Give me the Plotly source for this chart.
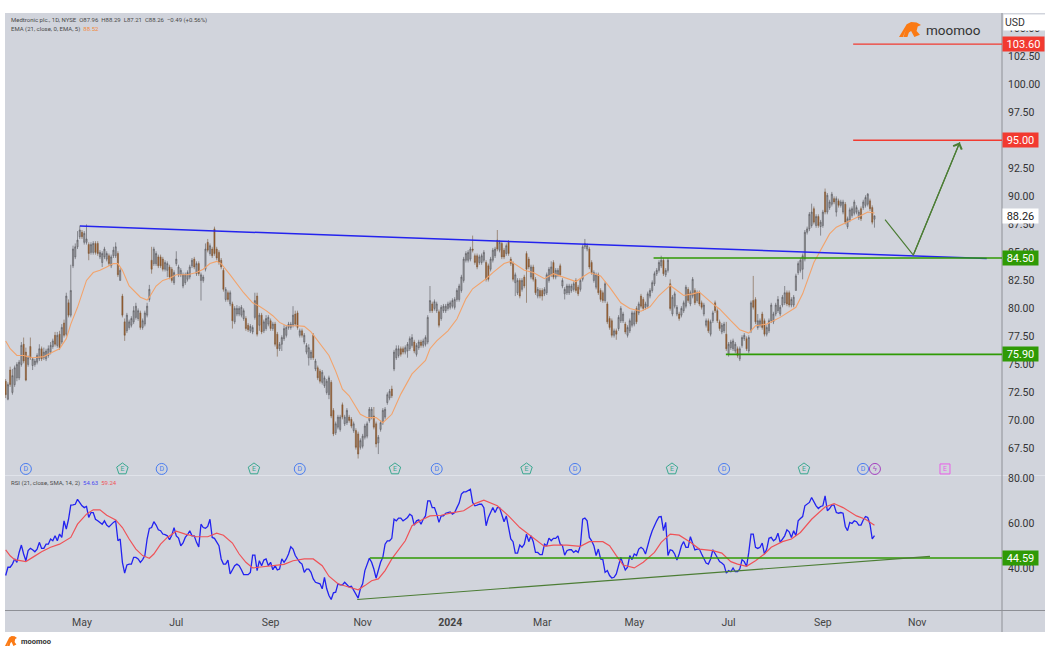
import plotly.graph_objects as go

opens = [
73.5,71.9,74.5,72.5,73.2,73.8,73.8,75.0,76.8,76.1,
75.0,76.6,74.9,75.0,75.2,75.5,76.4,75.6,75.5,75.8,
76.1,76.6,77.6,76.7,77.7,77.0,78.7,77.7,80.5,79.4,
83.8,84.6,85.5,86.4,86.8,85.9,85.9,85.7,85.0,85.0,
85.8,85.8,84.6,84.1,84.6,84.4,84.7,83.8,84.7,84.7,
84.9,82.5,81.1,78.8,78.0,78.3,78.5,78.8,79.2,79.1,
79.6,78.3,78.6,79.4,80.8,84.3,84.0,84.0,84.6,84.6,
84.4,83.5,83.4,83.7,83.5,82.3,84.0,83.0,83.0,82.0,
82.3,82.6,82.8,83.8,84.4,83.1,84.0,82.5,82.5,83.5,
85.9,84.9,85.3,87.1,85.3,85.0,84.3,83.4,80.8,81.4,
80.4,80.4,78.8,79.5,79.5,79.4,79.1,79.1,78.5,78.0,
77.9,79.2,81.1,78.5,79.4,78.0,78.2,78.6,78.9,78.2,
78.6,77.7,76.4,76.8,77.3,77.6,78.3,78.3,78.5,79.5,
79.6,77.6,78.0,77.0,76.1,75.6,75.6,77.6,74.6,74.7,
74.4,73.4,73.1,72.5,72.3,73.4,70.9,68.9,69.4,69.2,
71.4,69.7,69.8,70.3,70.1,69.1,69.1,68.8,67.6,67.7,
68.5,68.6,70.0,70.3,70.4,69.7,68.0,69.2,69.8,70.3,
71.6,72.0,72.8,74.6,75.6,75.8,76.4,76.4,76.1,76.2,
76.4,76.7,77.0,75.9,76.5,77.0,76.7,76.8,77.0,79.8,
80.4,80.0,79.8,79.7,79.1,79.8,79.8,80.0,80.1,80.2,
80.1,80.8,80.8,81.6,82.5,84.3,84.3,84.4,85.3,84.7,
84.7,84.1,84.1,84.3,84.1,83.8,83.5,84.3,84.7,86.1,
85.2,85.8,85.2,84.9,85.9,84.4,84.0,82.3,81.4,82.5,
81.7,82.8,84.9,84.4,82.8,83.7,82.6,81.1,81.6,81.6,
81.3,81.4,82.5,83.0,84.1,82.8,83.0,83.8,82.0,81.3,
81.4,81.4,81.6,81.7,82.5,81.9,81.7,82.6,85.5,85.3,
85.3,84.1,82.5,81.9,83.0,81.6,81.4,80.7,80.4,79.1,
78.9,77.6,78.0,78.2,78.9,78.9,78.6,77.6,78.0,78.5,
78.6,80.0,79.6,81.1,80.8,80.1,80.2,81.1,81.6,82.2,
83.1,83.4,83.8,84.3,83.0,83.4,82.2,79.5,80.2,79.5,
79.5,79.4,79.8,80.2,81.7,80.4,81.1,81.6,80.7,81.4,
80.5,79.5,78.5,78.9,77.7,78.9,80.5,79.8,78.8,77.9,
78.0,77.7,75.9,76.5,76.4,76.2,76.4,75.5,76.7,77.3,
77.3,76.2,78.0,80.7,80.8,78.3,78.5,79.5,78.9,77.7,
78.0,78.9,78.8,79.5,79.8,79.5,80.3,80.5,81.4,81.4,
80.3,80.3,81.6,83.2,83.4,83.5,84.4,86.8,87.1,87.4,
88.9,87.4,88.2,87.3,87.4,90.4,88.6,89.0,89.3,89.8,
88.6,89.6,89.2,88.6,89.3,87.3,87.9,88.3,88.5,88.6,
88.1,88.9,89.0,89.2,89.3,89.6,89.0,87.96]

closes = [
72.3,73.2,73.2,74.0,74.7,75.0,75.2,76.7,75.3,73.6,
75.6,75.6,75.5,75.3,75.8,76.4,75.5,76.1,76.2,76.4,
76.7,77.1,76.8,77.6,76.5,78.3,77.6,81.1,79.4,81.6,
85.3,85.5,86.1,87.0,86.4,86.7,86.2,84.9,85.7,85.8,
85.0,84.9,85.0,84.9,85.3,84.9,84.0,84.6,85.2,85.5,
83.0,83.4,79.4,77.6,79.4,78.8,79.1,79.8,80.2,79.8,
78.3,78.9,79.6,80.2,81.7,83.5,85.3,84.9,83.8,83.8,
83.5,84.1,84.0,82.8,82.5,83.2,84.4,83.7,83.4,83.0,
83.0,83.2,83.7,84.3,83.7,84.0,83.1,83.0,82.8,85.3,
85.2,85.6,84.7,84.9,84.5,84.1,83.7,81.7,81.7,80.8,
81.4,78.9,80.0,80.0,80.0,80.1,79.8,78.2,78.1,78.4,
78.3,80.7,77.7,79.4,77.9,78.8,79.1,79.2,78.2,78.6,
76.8,76.4,76.8,77.4,78.2,78.3,78.6,78.6,79.4,78.6,
78.3,78.0,77.6,77.6,76.7,76.5,76.1,75.6,75.3,73.8,
73.5,74.3,73.8,73.5,73.8,70.4,68.8,69.7,70.3,70.3,
70.3,70.3,70.9,70.0,69.5,69.7,67.6,67.0,68.2,68.6,
69.5,69.7,71.0,71.0,69.4,67.9,68.5,69.8,70.9,71.0,
72.3,72.6,72.2,76.1,76.4,76.4,75.9,76.1,76.5,76.8,
77.3,77.4,76.2,76.7,77.0,76.7,77.1,77.4,79.2,80.7,
79.8,80.6,80.4,78.5,80.1,80.2,80.2,80.4,80.5,80.7,
80.8,81.6,82.0,82.8,84.4,84.9,85.0,85.3,85.2,84.1,
83.7,84.6,84.7,85.0,82.6,82.6,84.4,85.2,85.3,85.3,
85.9,84.6,84.6,85.6,84.9,84.0,82.6,83.0,82.5,81.1,
82.5,82.0,83.5,83.7,83.7,82.6,81.4,81.7,81.1,81.1,
81.7,83.0,83.5,83.7,82.8,83.4,83.4,83.0,82.5,81.7,
82.0,82.0,82.0,82.2,81.6,81.3,82.5,85.5,85.8,85.6,
83.7,83.2,83.2,83.0,81.4,80.8,80.7,82.2,78.8,78.3,
77.6,78.0,77.7,79.2,80.0,79.5,77.9,78.3,78.9,79.6,
79.6,78.8,80.4,80.2,80.0,80.4,81.3,81.6,82.3,83.1,
83.4,84.1,84.3,83.1,83.4,84.3,80.0,81.0,81.3,80.1,
79.1,80.0,80.5,81.9,80.7,81.4,82.6,80.5,81.4,80.4,
80.1,80.3,78.9,78.0,78.8,79.6,79.8,78.9,78.2,78.5,
78.6,76.4,76.8,77.0,77.1,76.8,75.8,76.4,77.4,77.6,
76.4,77.4,80.5,80.1,78.8,78.9,78.9,78.3,77.7,78.3,
78.9,80.3,79.5,80.3,80.8,80.1,81.0,81.4,80.4,80.3,
80.8,81.0,82.9,84.0,84.3,84.7,86.8,87.1,88.4,88.6,
87.7,88.2,87.4,87.7,88.6,88.6,90.1,89.5,90.2,89.5,
89.8,89.2,89.5,89.5,87.7,88.0,88.8,88.9,89.5,89.0,
88.6,88.0,89.5,89.9,90.2,88.9,87.7,88.26]

highs = [
73.7,73.4,74.8,74.6,74.9,75.2,75.4,77.0,77.4,76.5,
75.8,77.4,75.6,75.5,76.0,76.8,76.6,76.5,76.4,76.7,
77.0,77.3,77.9,77.9,78.0,78.6,79.0,81.4,80.8,83.9,
85.6,85.8,86.9,87.4,87.0,86.9,87.5,85.9,85.9,86.0,
86.0,86.0,85.2,85.1,85.5,85.1,84.9,84.8,85.5,85.9,
85.1,83.6,81.3,79.1,79.6,79.0,79.3,80.2,80.5,80.0,
79.8,79.1,79.8,80.5,82.1,85.5,85.5,85.1,84.8,84.8,
84.6,84.3,84.2,83.9,83.7,83.4,85.1,83.9,83.6,83.2,
83.2,83.4,83.9,84.5,84.6,84.2,84.2,83.2,83.0,85.8,
86.2,85.8,85.5,87.3,85.5,85.2,84.5,83.6,81.9,81.6,
81.6,80.6,80.2,80.3,80.2,80.3,80.0,79.3,78.7,78.6,
78.5,81.4,81.4,79.6,79.6,79.0,79.4,79.4,79.1,78.8,
78.8,77.9,77.0,77.6,78.5,78.5,78.8,78.8,80.2,79.8,
79.8,78.2,78.2,77.8,76.9,76.8,76.3,77.8,75.5,74.9,
74.6,74.5,74.0,73.7,74.0,73.6,71.1,69.9,70.5,70.5,
71.6,70.5,71.1,70.5,70.3,69.9,69.3,69.0,68.4,68.8,
69.7,69.9,71.2,71.2,71.2,69.9,68.7,70.0,71.1,71.2,
72.5,72.8,73.1,76.3,76.7,76.7,76.6,76.6,76.7,77.0,
77.5,77.7,77.2,76.9,77.2,77.2,77.3,77.6,79.4,82.0,
80.6,80.8,80.6,79.9,80.3,80.4,80.4,80.6,80.7,80.9,
81.0,81.8,82.2,83.0,84.6,85.1,85.2,85.5,86.5,84.9,
84.9,84.8,84.9,85.2,84.3,84.0,84.6,85.4,85.5,87.0,
86.1,86.0,85.4,85.8,86.1,84.6,84.2,83.2,82.7,82.7,
82.7,83.0,85.1,84.6,83.9,83.9,82.8,81.9,81.8,81.8,
81.9,83.2,83.7,84.2,84.3,83.6,83.6,84.0,82.7,81.9,
82.2,82.2,82.2,82.4,82.7,82.1,82.7,85.7,86.2,85.8,
85.5,84.3,83.4,83.2,83.2,81.8,81.6,82.4,80.6,79.3,
79.1,78.2,78.2,79.4,80.2,79.7,78.8,78.5,79.1,79.8,
79.8,80.2,80.6,81.3,81.0,80.6,81.5,81.8,82.5,83.3,
83.6,84.3,84.7,84.5,83.6,84.5,82.6,81.2,81.5,80.3,
79.7,80.2,80.7,82.1,81.9,81.6,82.8,81.8,81.6,81.6,
80.7,80.5,79.1,79.1,79.0,79.8,80.7,80.0,79.0,78.7,
78.8,78.8,77.0,77.2,77.3,77.0,76.6,76.6,77.6,77.8,
77.5,77.6,80.7,82.9,81.0,79.5,79.1,79.7,79.1,78.5,
79.1,80.5,79.7,80.5,81.1,80.3,81.2,82.0,81.6,81.6,
81.0,81.2,83.1,84.2,84.5,84.9,87.0,87.3,88.6,89.35,
89.1,88.4,88.4,87.9,88.8,90.7,90.3,89.7,90.4,90.0,
90.0,89.8,89.7,89.7,89.5,88.2,89.0,89.1,89.7,89.2,
88.8,89.1,89.7,90.1,90.3,89.8,89.2,88.29]

lows = [
72.0,71.8,73.0,72.3,73.0,73.5,73.6,74.8,75.1,73.5,
74.8,75.4,74.5,74.8,75.0,75.3,75.3,75.4,75.3,75.6,
75.9,76.4,76.6,76.5,76.3,76.8,77.4,77.5,79.2,79.2,
83.6,84.4,85.3,86.2,86.2,85.7,85.7,84.3,84.8,84.8,
84.8,84.7,84.4,83.7,84.4,84.2,83.8,83.6,84.5,84.5,
82.8,82.5,79.2,77.1,77.8,78.1,78.3,78.6,79.0,78.9,
78.1,78.1,78.4,79.2,80.6,83.1,83.8,83.8,83.6,83.6,
83.3,83.3,82.8,82.6,82.3,82.1,83.8,82.8,82.8,81.8,
82.1,82.4,82.6,83.6,83.5,82.9,82.9,80.7,82.3,83.3,
85.0,84.7,84.5,84.7,84.3,83.9,83.5,81.5,80.6,80.6,
80.2,78.2,78.6,79.3,79.3,79.2,78.9,78.0,77.9,77.8,
77.7,79.0,77.5,78.0,77.7,77.8,78.0,78.4,78.0,78.0,
76.6,75.7,76.2,76.2,77.1,77.4,78.1,78.1,78.3,78.4,
78.1,77.4,77.4,76.8,75.9,74.9,75.4,75.4,74.4,73.6,
73.3,73.2,72.9,72.3,71.9,70.2,68.6,68.7,69.2,69.0,
70.1,69.5,69.6,69.8,69.3,68.9,67.4,66.6,67.4,67.5,
68.3,68.4,69.8,70.1,69.2,67.6,67.0,69.0,69.6,70.1,
71.4,71.8,72.0,74.4,75.4,75.6,75.7,75.9,75.9,75.6,
76.2,76.5,76.0,75.7,76.3,76.5,76.5,76.6,76.8,79.6,
79.6,79.8,79.6,78.3,78.9,79.6,79.6,79.8,79.9,80.0,
79.9,80.6,80.6,81.4,82.3,84.1,84.1,84.2,85.0,83.9,
83.5,83.9,83.9,84.1,82.4,82.4,83.3,84.1,84.5,85.1,
85.0,84.4,84.4,84.7,84.7,83.8,82.4,81.1,81.2,80.9,
81.5,81.8,80.5,83.5,82.6,82.4,81.2,80.9,80.9,80.7,
81.1,81.2,82.3,82.8,82.6,82.6,82.8,82.8,81.8,80.8,
81.2,81.2,81.4,81.5,81.4,81.1,81.5,82.4,85.3,85.1,
83.5,83.0,82.3,81.7,81.2,80.6,80.5,80.5,78.6,78.1,
77.4,77.4,77.2,78.0,78.7,78.7,77.7,77.4,77.8,78.3,
78.4,78.6,79.4,80.0,79.8,79.9,80.0,80.9,81.4,82.0,
82.9,83.2,83.6,82.9,82.8,83.2,79.8,79.3,80.0,79.3,
78.9,79.2,79.6,80.0,80.5,80.2,80.9,80.3,80.5,80.2,
79.9,79.3,78.3,77.8,77.5,78.7,79.6,78.7,78.0,77.7,
77.8,76.2,75.7,76.3,76.2,76.0,75.6,75.3,76.5,77.1,
76.2,76.0,77.8,79.9,78.6,78.1,78.3,78.1,77.5,77.5,
77.8,78.7,78.6,79.3,79.6,79.3,80.1,80.3,80.2,80.1,
80.1,80.1,81.6,83.0,83.2,82.6,84.2,86.6,86.9,87.2,
87.5,87.2,87.2,86.5,87.2,88.4,88.4,88.8,89.1,89.3,
88.2,89.0,89.0,88.4,87.5,87.1,87.7,88.1,88.3,88.4,
87.9,87.8,88.8,89.0,89.1,88.7,87.5,87.21]

ema_bars = [0,2,5,8,12,17,21,24,27,29,32,34,36,39,42,45,48,50,52,55,57,60,63,64,67,70,73,76,81,85,88,91,94,96,100,103,106,110,113,116,119,122,125,130,133,136,140,144,147,150,153,156,158,161,165,168,172,176,181,187,189,192,197,201,205,208,214,217,222,225,228,231,235,240,244,248,254,257,260,265,269,274,278,283,287,291,296,298,302,306,309,315,318,323,327,331,334,339,345,352,355,360,364,367,370,375,381,384,387]
ema_vals = [77.1,76.4,75.8,75.8,75.6,75.7,76.1,76.4,77.3,78.6,80.1,81.4,82.5,83.2,83.4,83.7,84.0,84.0,83.4,82.0,81.6,81.0,80.75,81.0,82.0,82.5,82.7,83.0,83.0,83.2,83.5,84.0,84.2,84.0,83.0,82.2,81.4,80.5,80.2,79.8,79.35,78.75,78.45,78.45,78.4,77.9,76.8,75.8,74.4,72.8,72.2,71.15,70.55,70.25,70.25,69.8,70.55,72.35,74.15,75.35,76.4,77.1,78.0,79.05,80.85,81.75,82.65,83.2,84.0,84.2,83.8,83.4,83.2,82.65,83.1,82.8,82.4,82.8,83.2,82.9,81.9,80.5,80.0,79.75,80.15,81.15,82.05,81.75,81.15,81.3,81.45,80.4,79.95,78.9,78.1,77.8,78.45,78.6,79.2,80.1,81.3,84.1,85.6,86.65,87.25,87.7,88.3,88.6,88.52]

rsi_vals = [
36.8,40.5,40.5,41.9,44.2,42.7,47.1,50.4,46.4,43.4,47.9,48.9,48.3,47.4,48.6,51.6,48.9,48.9,50.8,50.8,
53.1,52.3,54.5,52.3,55.3,53.8,61.2,57.5,61.9,68.2,68.3,68.6,70.8,69.4,67.9,67.1,67.6,62.7,64.9,64.9,
61.9,61.2,60.5,59.7,61.2,59.3,58.5,59.7,60.5,61.2,52.3,53.1,42.7,37.9,41.5,41.9,41.9,44.9,44.9,44.2,
42.7,43.9,45.7,53.1,57.8,58.2,60.8,59.3,57.2,56.8,55.3,55.0,54.5,52.8,54.8,58.2,54.5,53.5,50.1,51.3,
53.8,55.0,56.8,54.5,54.5,51.6,49.6,59.7,58.2,57.9,58.7,61.9,53.8,53.4,51.6,50.1,44.2,41.9,41.9,43.7,
37.5,39.4,41.2,41.9,41.2,39.4,37.2,37.2,37.2,38.2,45.9,45.9,39.0,43.4,41.2,43.7,44.2,41.2,42.7,39.4,
41.2,39.3,39.7,44.2,42.7,44.2,46.4,49.6,48.6,45.7,44.2,42.7,41.9,38.2,39.7,39.7,38.2,35.3,33.8,33.5,
33.1,30.9,36.0,30.9,27.9,26.1,29.1,29.4,33.1,32.6,32.6,33.8,32.6,31.7,
32.0,30.1,27.9,26.7,30.9,33.1,39.0,41.9,44.5,42.7,39.7,35.6,39.0,42.7,44.9,50.8,52.3,52.3,53.4,61.9,
61.2,62.4,62.4,61.2,61.9,62.7,64.2,63.4,59.3,61.2,61.6,59.7,61.9,63.4,70.1,70.1,67.1,67.1,64.2,60.5,
63.4,63.4,64.6,64.9,65.2,64.2,64.9,67.1,69.1,73.1,74.1,74.1,74.8,75.3,69.4,67.9,68.2,68.6,68.6,67.1,
59.0,62.7,64.9,67.1,64.9,67.1,67.1,64.2,60.8,63.4,58.2,53.1,51.9,46.8,46.8,50.4,49.4,50.8,55.3,51.9,
54.5,51.9,47.1,47.1,46.1,46.1,50.8,50.1,53.5,52.3,53.4,53.4,54.5,50.8,50.1,45.9,47.9,48.3,48.3,47.1,
47.9,47.1,50.1,61.9,62.4,61.2,53.8,52.3,50.1,45.7,48.6,44.2,43.9,38.2,39.0,36.8,35.7,36.0,37.5,41.2,
44.9,41.9,39.3,40.5,45.7,43.9,46.4,45.7,48.6,49.4,48.6,46.4,50.8,53.8,56.8,59.3,61.2,63.0,63.1,56.8,
60.5,45.7,48.3,47.9,46.4,43.7,46.4,50.1,51.9,49.4,49.4,54.1,50.8,48.2,48.6,
48.6,46.4,44.2,42.4,41.9,44.2,48.3,46.4,44.9,43.0,42.4,41.5,37.9,39.0,38.5,40.2,38.5,38.5,39.7,43.9,
43.0,40.8,47.1,55.3,55.3,49.4,48.9,49.4,51.3,46.4,48.6,53.4,53.8,52.3,53.1,55.7,51.6,53.1,54.5,57.2,
56.3,53.8,56.8,54.5,61.2,62.2,63.1,67.9,68.6,69.4,71.6,69.6,67.9,66.7,67.6,67.9,72.3,65.7,66.7,68.2,
68.2,64.9,64.6,64.9,64.6,58.7,56.8,60.5,60.0,61.2,60.8,59.3,59.3,61.6,63.1,62.7,59.7,53.1,54.63]

rsi_ma_bars = [0,2,4,6,9,12,16,20,24,29,32,36,39,42,45,49,52,55,58,61,64,66,69,72,76,80,85,90,94,97,101,104,107,110,113,118,124,128,133,137,141,144,148,152,157,160,163,166,169,172,178,181,185,189,194,198,204,209,213,219,224,229,234,240,244,250,256,260,266,269,272,275,280,284,289,292,296,300,305,309,315,319,323,326,330,334,338,341,346,350,354,359,365,369,373,379,383,387]
rsi_ma_vals = [48.2,45.6,43.9,43.6,43.0,44.9,47.4,49.4,50.8,53.8,59.7,64.2,66.1,66.1,63.7,61.6,58.2,53.1,48.6,45.7,44.5,46.4,50.8,53.8,56.6,55.3,54.1,54.1,55.7,54.8,51.3,46.4,42.7,40.2,40.5,41.2,41.8,43.4,44.2,44.2,41.2,36.5,33.1,31.9,30.4,32.3,34.5,35.3,39.0,44.2,52.3,59.0,61.5,63.4,63.7,64.6,65.7,68.9,70.4,67.9,63.4,58.2,54.5,49.8,50.4,50.4,49.8,51.9,51.9,50.1,45.7,41.5,40.2,42.7,47.1,51.6,55.3,54.8,51.6,48.6,47.9,46.8,43.0,41.9,40.9,43.4,46.4,49.4,51.9,53.1,56.0,61.9,67.4,68.9,67.1,63.4,61.9,59.24]

price_ticks = [67.5,70,72.5,75,77.5,80,82.5,85,87.5,90,92.5,95,97.5,100,102.5,105]
rsi_ticks = [40,60,80]
time_tick_bars = [34,76,118,159,198,239,280,322,364,406]
time_tick_labels = ["May","Jul","Sep","Nov","<b>2024</b>","Mar","May","Jul","Sep","Nov"]

trend_bars = [33.1,437]; trend_prices = [87.35,84.45]
support_hi_bars = [288.6,443.8]; support_hi = [84.5,84.5]
support_lo_bars = [320.8,443.8]; support_lo = [75.9,75.9]
target_a_bars = [377.5,443.8]; target_a = [103.6,103.6]
target_b_bars = [377.5,443.8]; target_b = [95.0,95.0]
path_bars = [391.7,404.3,425]; path_prices = [87.92,84.76,94.83]
rsi_flat_bars = [162.2,443.8]; rsi_flat = [44.59,44.59]
rsi_rise_bars = [156.6,411.7]; rsi_rise = [26.1,45.35]

div_bars = [9,69.5,131,192,253.6,320,381.9]
earn_bars = [52,110.6,173.4,232,296.8,355.6]
next_earn_bar = [418.4]
flash_bar = [387.2]
event_row = 65.67

BG = "#d1d4dc"
FONT = "Roboto, Liberation Sans, sans-serif"
W, H = 1050, 650
def px(v): return v / W
def py(v): return 1 - v / H

fig = go.Figure()
xs = list(range(len(closes)))
fig.add_trace(go.Candlestick(x=xs, open=opens, high=highs, low=lows, close=closes, xaxis="x", yaxis="y",
    increasing=dict(line=dict(color="#55565a", width=0.6), fillcolor="#a3a4a8"),
    decreasing=dict(line=dict(color="#7b5a3e", width=0.6), fillcolor="#a0561c"),
    whiskerwidth=0, showlegend=False, hoverinfo="skip"))
fig.add_trace(go.Scatter(x=ema_bars, y=ema_vals, mode="lines", line=dict(color="#f2a36b", width=1.1), xaxis="x", yaxis="y"))

def seg(x, y, color, width, xa="x", ya="y"):
    fig.add_trace(go.Scatter(x=x, y=y, mode="lines", line=dict(color=color, width=width), xaxis=xa, yaxis=ya, cliponaxis=False))

seg(trend_bars, trend_prices, "#2323ee", 1.5)
seg(support_hi_bars, support_hi, "#2f9a05", 1.6)
seg(support_lo_bars, support_lo, "#2f9a05", 1.6)
seg(target_a_bars, target_a, "#f23a30", 1.3)
seg(target_b_bars, target_b, "#f23a30", 1.5)
seg(path_bars, path_prices, "#4c7d35", 1.2)

fig.add_trace(go.Scatter(x=xs[:len(rsi_vals)], y=rsi_vals, mode="lines", line=dict(color="#2222f0", width=1.3), xaxis="x2", yaxis="y2"))
fig.add_trace(go.Scatter(x=rsi_ma_bars, y=rsi_ma_vals, mode="lines", line=dict(color="#ef5358", width=1.2), xaxis="x2", yaxis="y2"))
seg(rsi_flat_bars, rsi_flat, "#2f9a05", 1.6, "x2", "y2")
seg(rsi_rise_bars, rsi_rise, "#4c7d35", 1.2, "x2", "y2")

def events(x, label, symbol, size, color):
    fig.add_trace(go.Scatter(x=x, y=[event_row] * len(x), mode="markers+text", text=[label] * len(x),
        textposition="middle center", textfont=dict(size=7, color=color, family=FONT),
        marker=dict(symbol=symbol, size=size, color=BG, line=dict(color=color, width=1)),
        xaxis="x", yaxis="y", cliponaxis=False))
events(div_bars, "D", "circle", 11, "#4a7df0")
events(earn_bars, "E", "pentagon", 12, "#3aa890")
events(next_earn_bar, "E", "square", 10, "#e85fe8")
events(flash_bar, "ϟ", "circle", 11, "#a43fc0")

shapes = [
    dict(type="rect", xref="paper", yref="paper", x0=px(5), x1=px(1045), y0=py(632), y1=py(13), fillcolor=BG, line=dict(width=0), layer="below"),
    dict(type="line", xref="paper", yref="paper", x0=px(5), x1=px(1045), y0=py(475.5), y1=py(475.5), line=dict(color="#e0e3ea", width=1), layer="below"),
    dict(type="line", xref="paper", yref="paper", x0=px(5), x1=px(1045), y0=py(610.5), y1=py(610.5), line=dict(color="#8e9096", width=1), layer="below"),
    dict(type="line", xref="paper", yref="paper", x0=px(1002), x1=px(1002), y0=py(632), y1=py(13), line=dict(color="#8e9096", width=1), layer="below"),
]

def bull(x0, y0, w, h):
    pts = [(0,1),(.35,.15),(.55,0),(.8,.03),(1,.2),(.85,.3),(.8,.6),(.95,.85),(.7,1),(.55,.6),(.45,.7),(.38,1),(.2,1),(.3,.55),(.18,1)]
    return "M" + " L".join(f"{px(x0+a*w):.5f},{py(y0+b*h):.5f}" for a, b in pts) + " Z"
shapes.append(dict(type="path", xref="paper", yref="paper", path=bull(899, 22, 22, 15), fillcolor="#fb7a14", line=dict(width=0)))
shapes.append(dict(type="path", xref="paper", yref="paper", path=bull(5, 636, 12, 10), fillcolor="#fb7a14", line=dict(width=0)))

def note(x, y, text, size=6, color="#4a4a4a", anchor="left", **kw):
    return dict(xref="paper", yref="paper", x=px(x), y=py(y), text=text, showarrow=False, xanchor=anchor, yanchor="middle",
                font=dict(size=size, color=color, family=FONT), **kw)

def tag(text, price, axis, fill, color="#ffffff", w=35):
    return dict(xref="paper", yref=axis, x=px(1002), y=price, text=text, showarrow=False, xanchor="left", yanchor="middle",
                width=w, height=14, align="center", bgcolor=fill, font=dict(size=11, color=color, family=FONT), borderpad=0)

annotations = [
    note(9, 20.5, "Medtronic plc., 1D, NYSE  O87.96  H88.29  L87.21  C88.26  −0.49 (+0.56%)"),
    note(9, 29.5, 'EMA (21, close, 0, EMA, 5)  <span style="color:#f28a3c">88.52</span>'),
    note(9, 482.5, 'RSI (21, close, SMA, 14, 2)  <span style="color:#4a4af0">54.63</span>  <span style="color:#ef5358">59.24</span>'),
    note(924, 30, "moomoo", size=13.5, color="#333333"),
    note(19, 641.5, "<b>moomoo</b>", size=7.5, color="#333333"),
    tag("103.60", 103.6, "y", "#f23a30", w=41),
    tag("95.00", 95.0, "y", "#f23a30"),
    tag("88.26", 88.26, "y", "#ffffff", color="#222222"),
    tag("84.50", 84.5, "y", "#2f9a05"),
    tag("75.90", 75.9, "y", "#2f9a05"),
    tag("44.59", 44.59, "y2", "#2f9a05"),
    dict(xref="paper", yref="paper", x=px(1003), y=py(22), text="USD", showarrow=False, xanchor="left", yanchor="middle", width=40, height=13,
         align="left", bgcolor="#ffffff", font=dict(size=10.5, color="#333333", family=FONT)),
    dict(x=path_bars[2], y=path_prices[2], ax=path_bars[1], ay=path_prices[1], xref="x", yref="y", axref="x", ayref="y", text="",
         showarrow=True, arrowhead=4, arrowsize=1.5, arrowwidth=1.2, arrowcolor="#4c7d35"),
]

fig.update_layout(
    width=W, height=H, autosize=False, margin=dict(l=0, r=0, t=0, b=0, pad=0), paper_bgcolor="#ffffff", plot_bgcolor="rgba(0,0,0,0)",
    showlegend=False, shapes=shapes, annotations=annotations, font=dict(family=FONT, color="#333333"),
    xaxis=dict(domain=[px(5), px(1002)], range=[-0.3, 443.8], anchor="y", automargin=False, showgrid=False, showticklabels=False, zeroline=False, rangeslider=dict(visible=False), ticks=""),
    xaxis2=dict(domain=[px(5), px(1002)], range=[-0.3, 443.8], anchor="y2", automargin=False, showgrid=False, zeroline=False, ticks="", tickmode="array",
                tickvals=time_tick_bars, ticktext=time_tick_labels, tickfont=dict(size=10.5, color="#444444"), ticklabelstandoff=4),
    yaxis=dict(domain=[py(475), py(13)], range=[65.13, 106.37], side="right", anchor="x", automargin=False, showgrid=False, zeroline=False, ticks="", tickmode="array",
               tickvals=price_ticks, ticktext=[f"{v:.2f}" for v in price_ticks], tickfont=dict(size=10.5, color="#333333"), ticklabelstandoff=5),
    yaxis2=dict(domain=[py(610.5), py(476)], range=[21.2, 81.2], side="right", anchor="x2", automargin=False, showgrid=False, zeroline=False, ticks="", tickmode="array",
                tickvals=rsi_ticks, ticktext=[f"{v:.2f}" for v in rsi_ticks], tickfont=dict(size=10.5, color="#333333"), ticklabelstandoff=5),
)
fig.write_html("out.html", config=dict(displayModeBar=False), post_script="document.body.style.margin='0';")
